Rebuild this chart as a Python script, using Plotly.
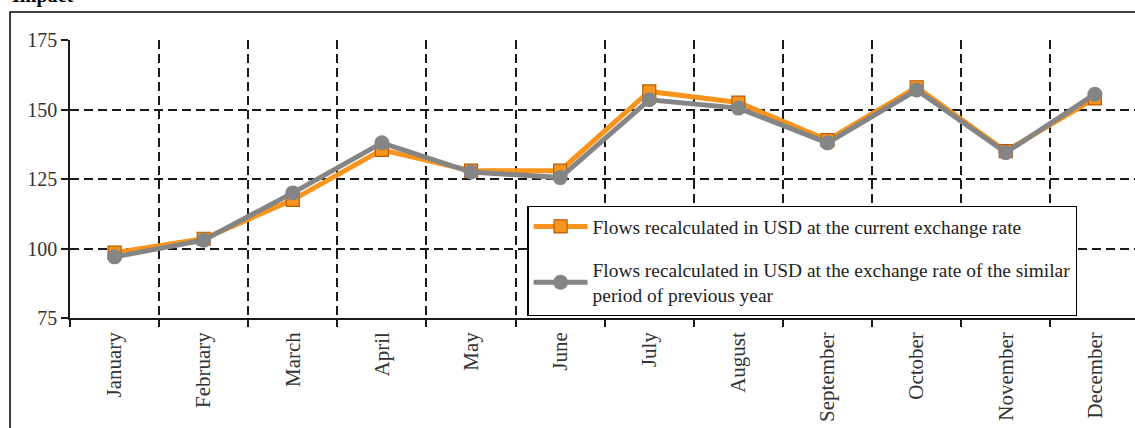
import plotly.graph_objects as go

months = ["January", "February", "March", "April", "May", "June", "July",
          "August", "September", "October", "November", "December"]
current_rate = [98.5, 103.5, 117.5, 135.5, 128, 128, 156.5, 152.5, 139, 158, 135, 154]
previous_rate = [97, 103, 120, 138, 127.5, 125.5, 153.5, 150.5, 138, 157, 134.5, 155.5]
name_current = "Flows recalculated in USD at the current exchange rate"
name_previous = "Flows recalculated in USD at the exchange rate of the similar<br>period of previous year"
y_ticks = [75, 100, 125, 150, 175]

FONT = "Liberation Serif, Times New Roman, serif"

fig = go.Figure()
fig.add_trace(go.Scatter(
    x=months, y=current_rate, name=name_current, mode="lines+markers",
    line=dict(color="#F7941D", width=5),
    marker=dict(symbol="square", size=13, color="#F7941D",
                line=dict(color="#B85A00", width=1.2)),
    legendgroup="a",
))
fig.add_trace(go.Scatter(
    x=months, y=previous_rate, name=name_previous, mode="lines+markers",
    line=dict(color="#858585", width=5),
    marker=dict(symbol="circle", size=15, color="#858585"),
    legendgroup="b",
))

grid = dict(showgrid=True, gridcolor="#1a1a1a", griddash="9px,5px", gridwidth=1.6)

fig.update_xaxes(
    type="category", range=[-0.5, 11.45], tickson="boundaries",
    ticks="outside", ticklen=7, tickcolor="#1a1a1a", tickwidth=1.5,
    showline=True, linecolor="#1a1a1a", linewidth=1.5,
    tickangle=-90, tickfont=dict(family=FONT, size=21, color="#333333"),
    ticklabelstandoff=4, automargin=False,
    **grid,
)
fig.update_yaxes(
    range=[75, 175], tickvals=y_ticks,
    ticks="outside", ticklen=7, tickcolor="#1a1a1a", tickwidth=1.5,
    showline=True, linecolor="#1a1a1a", linewidth=1.5,
    tickfont=dict(family=FONT, size=20, color="#333333"),
    zeroline=False, automargin=False, **grid,
)

W = 1135
L, T, B = 69.5, 40, 110
pw = W - L
ph = 428 - T - B

def px(x):
    return (x - L) / pw

def py(y):
    return (428 - B - y) / ph

fig.add_shape(type="rect", xref="paper", yref="paper",
              x0=px(9.5), x1=px(1160), y0=py(460), y1=py(12),
              line=dict(color="black", width=1.5), fillcolor="rgba(0,0,0,0)",
              layer="below")

fig.add_annotation(text="<b>Impact</b>", xref="paper", yref="paper",
                   x=px(9), y=py(9), xanchor="left", yanchor="bottom",
                   showarrow=False, font=dict(family=FONT, size=20, color="black"))

fig.update_layout(
    width=W, height=428,
    margin=dict(l=L, r=0, t=T, b=B),
    plot_bgcolor="white", paper_bgcolor="white",
    font=dict(family=FONT, color="#222222"),
    legend=dict(
        x=px(527), y=py(206), xanchor="left", yanchor="top",
        bgcolor="white", bordercolor="black", borderwidth=1.3,
        font=dict(family=FONT, size=19.4, color="#222222"),
        tracegroupgap=15, itemwidth=54,
    ),
)

fig.write_html("out.html", config={"displayModeBar": False},
               post_script="document.body.style.margin='0';document.body.style.overflow='hidden';")
